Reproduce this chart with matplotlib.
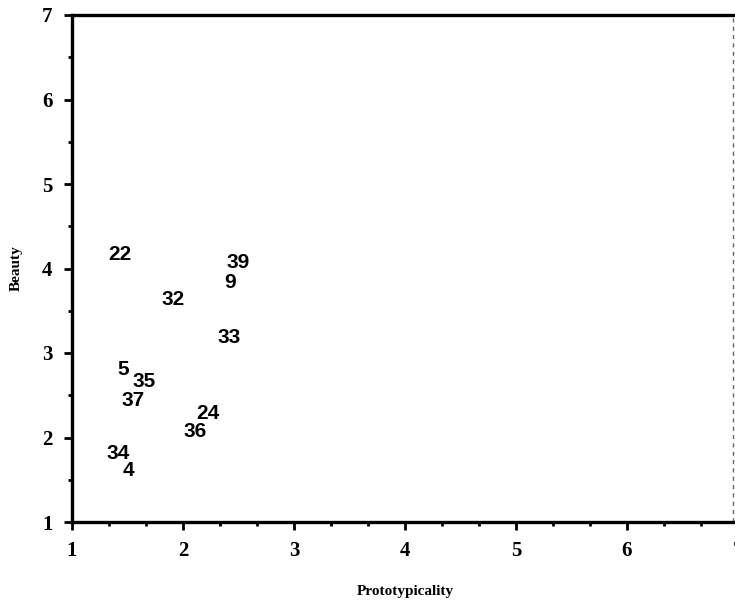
import matplotlib
matplotlib.use("Agg")
import matplotlib.pyplot as plt
from matplotlib.ticker import MultipleLocator

# Stimulus numbers with their prototypicality / beauty ratings
labels = ["22", "39", "9", "32", "33", "5", "35", "37", "24", "36", "34", "4"]
proto = [1.43, 2.50, 2.42, 1.91, 2.42, 1.46, 1.65, 1.55, 2.22, 2.11, 1.42, 1.51]
beauty = [4.16, 4.07, 3.84, 3.63, 3.18, 2.81, 2.66, 2.44, 2.28, 2.07, 1.81, 1.61]

xticks = [1, 2, 3, 4, 5, 6, 7]
yticks = [1, 2, 3, 4, 5, 6, 7]

fig = plt.figure(figsize=(7.35, 6.01), dpi=100)
ax = fig.add_axes([72 / 735, 79 / 601, 666 / 735, 507 / 601])

for lab, x, y in zip(labels, proto, beauty):
    ax.text(x, y, lab, ha="center", va="center", fontsize=15,
            fontweight="bold", family="Liberation Sans")

ax.set_xlim(1, 7)
ax.set_ylim(1, 7)
ax.set_xticks(xticks)
ax.set_yticks(yticks)
ax.xaxis.set_minor_locator(MultipleLocator(1 / 3))
ax.yaxis.set_minor_locator(MultipleLocator(0.5))

for lab in ax.get_xticklabels() + ax.get_yticklabels():
    lab.set_family("Liberation Serif")
    lab.set_fontweight("bold")
    lab.set_fontsize(15)

ax.tick_params(which="major", direction="out", length=6, width=2, pad=8)
ax.tick_params(which="minor", direction="out", length=3, width=2)

for side in ["left", "bottom", "top"]:
    ax.spines[side].set_linewidth(2.4)
ax.spines["right"].set_visible(False)
# faint dashed right edge as in the scan
ax.axvline(6.955, color="0.4", linestyle=(0, (3, 3)), linewidth=1)

ax.set_xlabel("Prototypicality", family="Liberation Serif",
              fontweight="bold", fontsize=11, labelpad=17)
ax.set_ylabel("Beauty", family="Liberation Serif",
              fontweight="bold", fontsize=11, labelpad=14)

fig.savefig("out.png", dpi=100)
